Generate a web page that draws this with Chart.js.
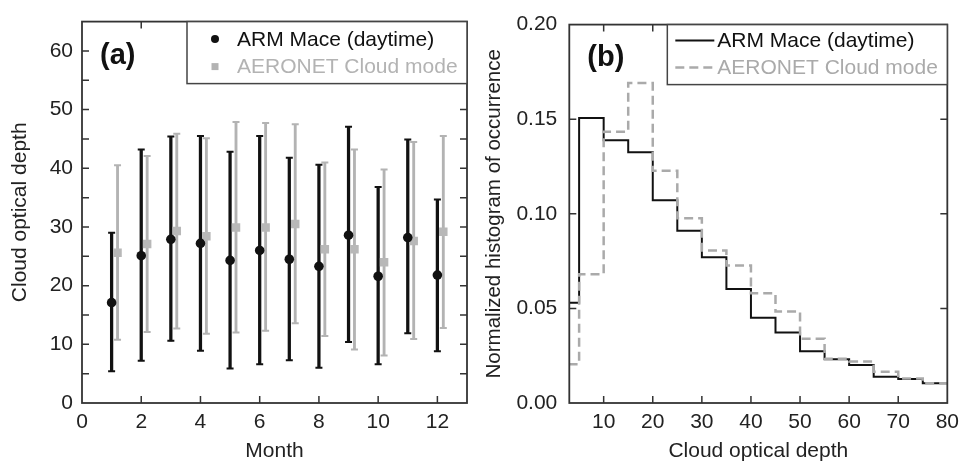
<!DOCTYPE html>
<html lang="en">
<head>
<meta charset="UTF-8">
<title>Cloud optical depth: ARM Mace vs AERONET</title>
<script src="https://cdn.jsdelivr.net/npm/chart.js@4.4.1/dist/chart.umd.min.js"></script>
<style>
  html, body { margin: 0; padding: 0; background: #fff; }
  .panel { position: absolute; top: 0; height: 462px; }
  #panelA { left: 0; width: 480px; }
  #panelB { left: 480px; width: 486px; }
</style>
</head>
<body>
<div class="panel" id="panelA"><canvas id="chartA"></canvas></div>
<div class="panel" id="panelB"><canvas id="chartB"></canvas></div>
<script>
// (a) monthly cloud optical depth: mean and spread
const months   = [1, 2, 3, 4, 5, 6, 7, 8, 9, 10, 11, 12];
const armMean  = [17.1, 25.1, 27.9, 27.2, 24.3, 26.0, 24.5, 23.3, 28.6, 21.6, 28.2, 21.8];
const armLow   = [5.4, 7.2, 10.6, 8.9, 5.9, 6.6, 7.3, 6.0, 10.4, 6.6, 11.9, 8.8];
const armHigh  = [29.0, 43.2, 45.4, 45.5, 42.8, 45.5, 41.8, 40.6, 47.1, 36.8, 44.9, 34.7];
const aeroMean = [25.6, 27.1, 29.3, 28.4, 29.9, 29.9, 30.5, 26.2, 26.2, 24.0, 27.6, 29.2];
const aeroLow  = [10.8, 12.1, 12.7, 11.8, 12.0, 12.3, 13.6, 11.4, 9.1, 8.1, 10.9, 12.8];
const aeroHigh = [40.5, 42.1, 45.9, 45.1, 47.9, 47.7, 47.5, 41.0, 43.2, 39.8, 44.5, 45.5];

// (b) normalized histogram, 5-wide bins starting at binStart
const binStart = [0, 5, 10, 15, 20, 25, 30, 35, 40, 45, 50, 55, 60, 65, 70, 75];
const armHist  = [0.053, 0.1507, 0.1389, 0.1325, 0.1071, 0.0910, 0.0771, 0.0602,
                  0.0450, 0.0372, 0.0273, 0.0231, 0.0201, 0.0139, 0.0127, 0.0104];
const aeroHist = [0.0205, 0.0681, 0.1434, 0.1691, 0.1227, 0.0976, 0.0806, 0.0727,
                  0.0580, 0.0484, 0.0339, 0.0234, 0.0220, 0.0165, 0.0130, 0.0104];

// tick values
const monthTicks  = [0, 2, 4, 6, 8, 10, 12];
const depthTicksA = [0, 10, 20, 30, 40, 50, 60];
const depthMinorA = [5, 15, 25, 35, 45, 55];
const depthTicksB = [10, 20, 30, 40, 50, 60, 70, 80];
const histTicks   = [0, 0.05, 0.10, 0.15, 0.20];

const BLACK = '#111';
const GREY = '#b3b3b3';
const aeroShift = 0.2;   // AERONET drawn a little right of the month
const binWidth = 5;

Chart.defaults.font.family = '"Liberation Sans", Arial, Helvetica, sans-serif';
Chart.defaults.font.size = 21;
Chart.defaults.color = '#222';

// box around the plot area + inward tick marks on all four sides
const frameTicks = {
  id: 'frameTicks',
  afterDatasetsDraw(chart, args, opts) {
    const {ctx, chartArea: a, scales} = chart;
    const len = opts.len || 7;
    ctx.save();
    ctx.strokeStyle = '#333';
    ctx.lineWidth = 1.5;
    ctx.beginPath();
    const xs = (opts.x || []).map(v => scales.x.getPixelForValue(v));
    xs.forEach(px => {
      if (px < a.left + 1 || px > a.right - 1) return;
      ctx.moveTo(px, a.bottom); ctx.lineTo(px, a.bottom - len);
      ctx.moveTo(px, a.top); ctx.lineTo(px, a.top + len);
    });
    const ys = (opts.y || []).concat(opts.yMinor || []).map(v => scales.y.getPixelForValue(v));
    ys.forEach(py => {
      if (py < a.top + 1 || py > a.bottom - 1) return;
      ctx.moveTo(a.left, py); ctx.lineTo(a.left + len, py);
      ctx.moveTo(a.right, py); ctx.lineTo(a.right - len, py);
    });
    ctx.stroke();
    ctx.lineWidth = 1.8;
    ctx.strokeRect(a.left, a.top, a.right - a.left, a.bottom - a.top);
    ctx.restore();
  }
};

// boxed legend in the top-right corner, plus the panel letter
const boxLegend = {
  id: 'boxLegend',
  afterDraw(chart, args, opts) {
    const {ctx, chartArea: a} = chart;
    ctx.save();
    const left = a.right - opts.width;
    ctx.fillStyle = '#fff';
    ctx.fillRect(left, a.top, opts.width, opts.height);
    ctx.strokeStyle = '#444';
    ctx.lineWidth = 1.5;
    ctx.strokeRect(left, a.top, opts.width, opts.height);

    const items = chart.data.datasets.filter(d => d.legend);
    items.sort((p, q) => p.legend - q.legend);
    items.forEach((d, i) => {
      const y = a.top + opts.rows[i];
      const mx = left + opts.markerX;
      const col = d.legendColor;
      ctx.fillStyle = col;
      ctx.strokeStyle = col;
      if (opts.kind === 'point') {
        ctx.beginPath();
        if (d.pointStyle === 'rect') {
          ctx.rect(mx - 3.5, y - 3.5, 7, 7);
        } else {
          ctx.arc(mx, y, 4, 0, Math.PI * 2);
        }
        ctx.fill();
      } else {
        ctx.lineWidth = d.borderWidth;
        ctx.setLineDash(d.borderDash || []);
        ctx.beginPath();
        ctx.moveTo(left + opts.lineFrom, y);
        ctx.lineTo(left + opts.lineTo, y);
        ctx.stroke();
        ctx.setLineDash([]);
      }
      ctx.font = '21px "Liberation Sans", Arial, sans-serif';
      ctx.textAlign = 'left';
      ctx.textBaseline = 'middle';
      ctx.fillText(d.label, left + opts.textX, y + 1);
    });

    ctx.fillStyle = '#111';
    ctx.font = 'bold 29px "Liberation Sans", Arial, sans-serif';
    ctx.textBaseline = 'middle';
    ctx.fillText(opts.tag, a.left + 18, a.top + opts.tagY);
    ctx.restore();
  }
};

function fixedTicks(values) {
  return scale => { scale.ticks = values.map(v => ({value: v})); };
}

const pts = (xs, ys, dx) => xs.map((x, i) => ({x: x + dx, y: ys[i]}));
const spans = (xs, lo, hi, dx) => xs.map((x, i) => ({x: x + dx, y: [lo[i], hi[i]]}));

new Chart(document.getElementById('chartA'), {
  type: 'bar',
  data: {
    datasets: [
      {type: 'scatter', label: 'ARM Mace (daytime)', legend: 1, legendColor: BLACK,
       data: pts(months, armMean, 0), pointStyle: 'circle', pointRadius: 4.8,
       pointBackgroundColor: BLACK, pointBorderWidth: 0},
      {type: 'scatter', label: 'AERONET Cloud mode', legend: 2, legendColor: GREY,
       data: pts(months, aeroMean, aeroShift), pointStyle: 'rect', pointRadius: 6,
       pointBackgroundColor: '#b8b8b8', pointBorderWidth: 0},
      {type: 'scatter', data: pts(months, armLow, 0).concat(pts(months, armHigh, 0)),
       pointStyle: 'line', pointRadius: 3.5, pointBorderColor: BLACK, pointBorderWidth: 2},
      {type: 'scatter', data: pts(months, aeroLow, aeroShift).concat(pts(months, aeroHigh, aeroShift)),
       pointStyle: 'line', pointRadius: 3.5, pointBorderColor: GREY, pointBorderWidth: 2},
      {type: 'bar', data: spans(months, armLow, armHigh, 0), backgroundColor: BLACK,
       barThickness: 2.6, grouped: false},
      {type: 'bar', data: spans(months, aeroLow, aeroHigh, aeroShift), backgroundColor: GREY,
       barThickness: 2.2, grouped: false}
    ]
  },
  options: {
    responsive: true,
    maintainAspectRatio: false,
    animation: false,
    events: [],
    layout: {padding: {left: 0, top: 19, right: 13, bottom: 0}},
    plugins: {
      legend: {display: false},
      tooltip: {enabled: false},
      frameTicks: {x: monthTicks, y: depthTicksA, yMinor: depthMinorA, len: 7},
      boxLegend: {kind: 'point', width: 280, height: 62, rows: [17.5, 45], markerX: 28,
                  textX: 50, tag: '(a)', tagY: 34}
    },
    scales: {
      x: {
        type: 'linear', min: 0, max: 13, offset: false,
        grid: {display: false, drawTicks: false}, border: {display: false},
        ticks: {padding: 7, maxRotation: 0},
        afterBuildTicks: fixedTicks(monthTicks),
        afterFit: s => { s.height = 59; },
        title: {display: true, text: 'Month', padding: 0, font: {size: 21, lineHeight: 1}}
      },
      y: {
        type: 'linear', min: 0, max: 65,
        grid: {display: false, drawTicks: false}, border: {display: false},
        ticks: {padding: 9},
        afterBuildTicks: fixedTicks(depthTicksA),
        afterFit: s => { s.width = 82; },
        title: {display: true, text: 'Cloud optical depth', padding: {top: 9.5, bottom: 0},
                font: {size: 21, lineHeight: 1}}
      }
    }
  },
  plugins: [frameTicks, boxLegend]
});

const steps = vals => binStart.map((x, i) => ({x: x, y: vals[i]}))
  .concat([{x: binStart[binStart.length - 1] + binWidth, y: vals[vals.length - 1]}]);

new Chart(document.getElementById('chartB'), {
  type: 'line',
  data: {
    datasets: [
      {label: 'AERONET Cloud mode', legend: 2, legendColor: '#aaa', data: steps(aeroHist),
       borderColor: '#aaa', borderWidth: 2.5, borderDash: [9, 5], stepped: true,
       pointRadius: 0, fill: false},
      {label: 'ARM Mace (daytime)', legend: 1, legendColor: BLACK, data: steps(armHist),
       borderColor: BLACK, borderWidth: 2, stepped: true, pointRadius: 0, fill: false}
    ]
  },
  options: {
    responsive: true,
    maintainAspectRatio: false,
    animation: false,
    events: [],
    layout: {padding: {left: 0, top: 19, right: 13.3, bottom: 0}},
    plugins: {
      legend: {display: false},
      tooltip: {enabled: false},
      frameTicks: {x: depthTicksB, y: histTicks, len: 7},
      boxLegend: {kind: 'line', width: 280, height: 60, rows: [16, 43], lineFrom: 8,
                  lineTo: 47, textX: 50, tag: '(b)', tagY: 33.5}
    },
    scales: {
      x: {
        type: 'linear', min: 3, max: 80,
        grid: {display: false, drawTicks: false}, border: {display: false},
        ticks: {padding: 7, maxRotation: 0},
        afterBuildTicks: fixedTicks(depthTicksB),
        afterFit: s => { s.height = 59; },
        title: {display: true, text: 'Cloud optical depth', padding: 0,
                font: {size: 21, lineHeight: 1}}
      },
      y: {
        type: 'linear', min: 0, max: 0.2,
        grid: {display: false, drawTicks: false}, border: {display: false},
        ticks: {padding: 12, callback: v => v.toFixed(2)},
        afterBuildTicks: fixedTicks(histTicks),
        afterFit: s => { s.width = 89.3; },
        title: {display: true, text: 'Normalized histogram of occurrence',
                padding: {top: 4.5, bottom: 0}, font: {size: 20.5, lineHeight: 1}}
      }
    }
  },
  plugins: [frameTicks, boxLegend]
});
</script>
</body>
</html>
